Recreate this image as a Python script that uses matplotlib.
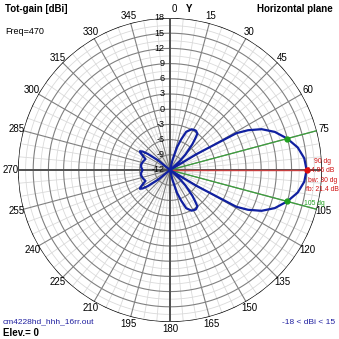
import numpy as np
import matplotlib
matplotlib.use("Agg")
import matplotlib.pyplot as plt

plt.rcParams['font.family'] = ['Liberation Sans', 'DejaVu Sans']

# gain (dBi), front half 0..90 deg (mirrored about 90)
az_front = [0, 10, 14, 17, 20, 23, 28, 33, 37, 39, 41, 45, 48, 52, 56, 59, 61, 63, 66, 70, 75, 80, 85, 90]
gain_front = [-20, -14, -10, -7.3, -5.6, -3.8, -2.9, -2.7, -3.0, -4.2, -5.3, -7.7, -9.5, -13, -15, -6,
              3.0, 5.3, 7.8, 10.0, 11.96, 13.6, 14.6, 14.96]
# back half 270..360 deg (mirrored about 270)
az_back = [270, 275, 280, 287, 294, 300, 302, 304, 306, 309, 312, 316, 330, 360]
gain_back = [-6.6, -6.3, -6.2, -6.4, -6.7, -5.3, -5.0, -5.5, -6.6, -9.0, -12.0, -14, -20, -20]

r_ticks = [18, 15, 12, 9, 6, 3, 0, -3, -6, -9, -12]
r_min, r_max = -12, 18
peak_az, peak_gain = 90, 14.96
bw_az = [75, 105]
bw_gain = 11.96

az = (az_front + [180 - a for a in az_front[-2::-1]]
      + [540 - a for a in az_back[:0:-1]] + az_back)
gain = (gain_front + gain_front[-2::-1] + gain_back[:0:-1] + gain_back)
az = np.deg2rad(az)
gain = np.clip(gain, r_min, None)

W = 339
fig = plt.figure(figsize=(W / 100, W / 100), dpi=100)
ax = fig.add_axes([18 / W, 17 / W, 304 / W, 304 / W], projection='polar')
ax.set_theta_zero_location('N')
ax.set_theta_direction(-1)
ax.set_rlim(r_min, r_max)
ax.grid(False)
ax.set_xticks([])
ax.set_yticks([])
ax.spines['polar'].set_visible(False)

full = np.linspace(0, 2 * np.pi, 361)
# light rings at half steps, dark rings at tick values
for r in np.arange(r_min + 1.5, r_max, 3):
    ax.plot(full, np.full_like(full, r), color='#dadada', lw=0.6, zorder=1)
for r in r_ticks[1:-1]:
    ax.plot(full, np.full_like(full, r), color='#808080', lw=0.8, zorder=2)
ax.plot(full, np.full_like(full, r_max), color='black', lw=1.0, zorder=3)

for a in range(0, 360, 5):
    t = np.deg2rad(a)
    if a % 90 == 0:
        ax.plot([t, t], [r_min, r_max], color='#505050', lw=1.4, zorder=3)
    elif a % 15 == 0:
        ax.plot([t, t], [r_min, r_max], color='#808080', lw=0.8, zorder=2)
    else:
        ax.plot([t, t], [r_min, r_max], color='#dadada', lw=0.6, zorder=1)

# angle labels
for a in range(15, 360, 15):
    if a == 90:
        continue
    ax.text(np.deg2rad(a), 19.4, str(a), ha='center', va='center', fontsize=7, clip_on=False)
ax.annotate('0', xy=(0, 19.7), xytext=(3, 0), textcoords='offset points',
            ha='center', va='center', fontsize=7, annotation_clip=False)
ax.annotate('Y', xy=(0, 19.7), xytext=(14, 0), textcoords='offset points',
            ha='center', va='center', fontsize=7, fontweight='bold', annotation_clip=False)

# radial labels
for r in r_ticks:
    ax.annotate(str(r), xy=(0, r), xytext=(-4, 0), textcoords='offset points',
                ha='right', va='center', fontsize=6.5, zorder=4)

# beamwidth and peak markers
for a in bw_az:
    t = np.deg2rad(a)
    ax.plot([t, t], [r_min, r_max + 0.3], color='#3ca03c', lw=0.9, zorder=4)
    ax.plot(t, bw_gain, 'o', color='#20a020', ms=3.5, zorder=6)
t = np.deg2rad(peak_az)
ax.plot([t, t], [r_min, peak_gain], color='#c84040', lw=1.0, zorder=4)

ax.plot(az, gain, color='#1020a0', lw=1.6, zorder=5)
ax.plot(t, peak_gain, 'o', color='#e01010', ms=3.5, zorder=6)

red = '#d01010'
fs = 4.9
ax.annotate('90 dg', xy=(t, peak_gain), xytext=(5, 5.8), textcoords='offset points',
            color=red, fontsize=fs, ha='left', va='center', annotation_clip=False)
ax.annotate('14.96 dB', xy=(t, peak_gain), xytext=(0.3, -0.5), textcoords='offset points',
            color=red, fontsize=fs, ha='left', va='center', annotation_clip=False)
ax.annotate('bw: 30 dg', xy=(t, peak_gain), xytext=(1, -7.2), textcoords='offset points',
            color=red, fontsize=fs, ha='left', va='center', annotation_clip=False)
ax.annotate('fb: 21.4 dB', xy=(t, peak_gain), xytext=(-0.5, -13.7), textcoords='offset points',
            color=red, fontsize=fs, ha='left', va='center', annotation_clip=False)
ax.annotate('105 dg', xy=(np.deg2rad(105), r_max), xytext=(-9.4, 4.3), textcoords='offset points',
            color='#20a020', fontsize=fs, ha='left', va='center', annotation_clip=False)

fig.text(5 / W, 1 - 9 / W, 'Tot-gain [dBi]', fontsize=7, fontweight='bold', va='center')
fig.text(333 / W, 1 - 9 / W, 'Horizontal plane', fontsize=7, fontweight='bold', va='center', ha='right')
fig.text(5 / W, 1 - 31 / W, 'Freq=470', fontsize=6.5, va='center')
fig.text(3 / W, 1 - 322 / W, 'cm4228hd_hhh_16rr.out', fontsize=6, color='#2020a0', va='center')
fig.text(3 / W, 1 - 333 / W, 'Elev.= 0', fontsize=7, fontweight='bold', va='center')
fig.text(335 / W, 1 - 322 / W, '-18 < dBi < 15', fontsize=6, color='#2020a0', va='center', ha='right')

fig.savefig('out.png', dpi=100, facecolor='white')
